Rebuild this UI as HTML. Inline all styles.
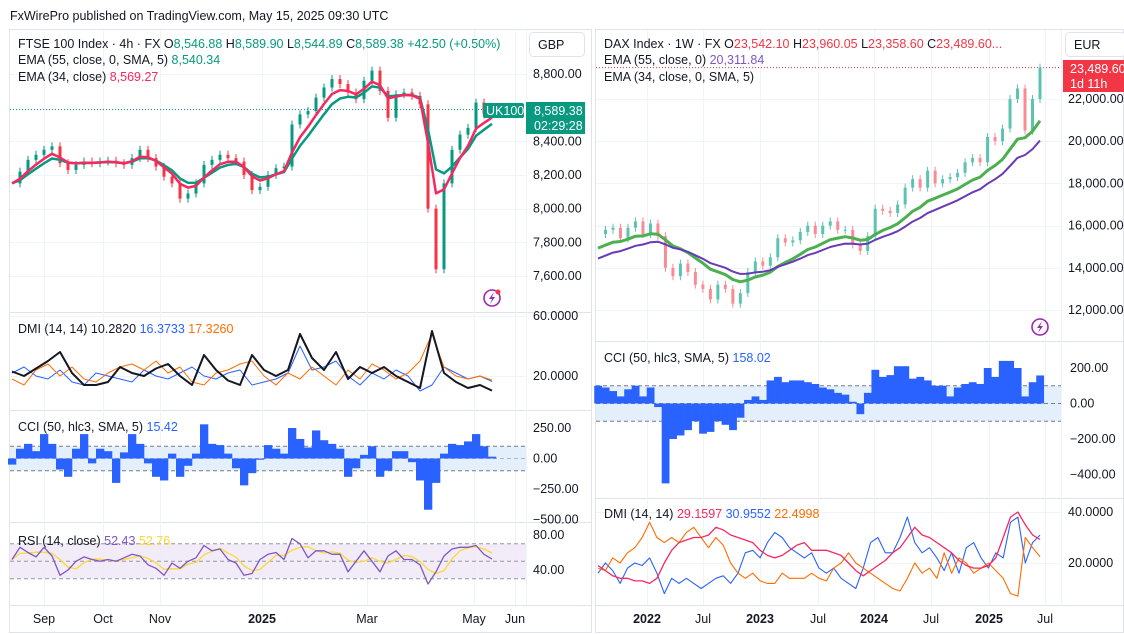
<!DOCTYPE html>
<html><head><meta charset="utf-8">
<style>
body{margin:0;background:#fff;font-family:"Liberation Sans",sans-serif;}
svg{display:block}
text{font-family:"Liberation Sans",sans-serif;}
</style></head>
<body>
<svg id="c" width="1124" height="634" viewBox="0 0 1124 634" xmlns="http://www.w3.org/2000/svg">
<rect x="0" y="0" width="1124" height="634" fill="#fff"/>
<text x="10" y="20" font-size="12.5" fill="#131722">FxWirePro published on TradingView.com, May 15, 2025 09:30 UTC</text>
<g id="grid"></g>
<g id="marks"></g>
<g id="ui"></g>
</svg>
<script>
// ---------- FTSE (left) data ----------
const ftseClose=[8150,8220,8290,8320,8350,8370,8270,8230,8260,8280,8270,8280,8285,8270,8260,8300,8350,8300,8250,8190,8150,8060,8090,8150,8260,8290,8320,8300,8280,8200,8110,8130,8200,8240,8250,8500,8560,8580,8660,8720,8770,8740,8690,8650,8760,8820,8700,8540,8680,8690,8670,8620,8000,7640,8150,8350,8440,8480,8630,8560,8589];
const ftseDmiAdx=[23,20,25,30,36,22,14,14,16,26,22,20,25,28,20,14,34,24,17,14,34,24,20,24,48,32,24,36,18,26,22,26,20,16,12,50,22,16,12,14,10.3];
const ftseDmiPlus=[22,26,20,18,24,16,14,22,20,18,16,24,20,18,22,26,20,18,22,24,14,16,18,22,40,24,26,30,20,14,22,18,24,20,10,14,26,22,18,20,16.4];
const ftseDmiMinus=[18,14,24,28,20,26,18,16,22,26,28,24,30,22,26,16,14,22,24,28,30,20,14,22,18,26,20,14,24,18,28,24,18,22,30,48,26,20,18,20,17.3];
const ftseCci=[-50,80,120,60,200,120,-90,-150,80,200,-40,80,60,-200,50,200,120,-40,-150,-180,40,-150,-60,40,280,120,110,40,-80,-220,-120,-10,110,80,40,250,160,90,230,150,120,80,-150,-80,30,100,-150,-100,60,60,-30,-180,-420,-200,40,120,110,140,200,100,15];
const ftseRsi=[52,66,60,55,66,56,34,40,50,55,52,50,52,50,54,58,56,46,42,34,48,42,50,54,68,62,64,52,48,34,36,52,58,60,52,76,70,54,62,62,58,58,38,50,62,50,38,56,62,52,52,46,24,38,56,64,66,66,68,58,52.4];
const ftsePriceTicks=[8800,8400,8200,8000,7800,7600];
const ftseMonths=["Sep","Oct","Nov","2025","Mar","May","Jun"];
// ---------- DAX (right) data ----------
const daxClose=[15600,15800,15900,15400,15900,16200,15600,16100,15500,14000,13600,14200,13800,13200,13000,12500,13200,13000,12300,12800,13800,14300,14100,14500,15400,15200,15300,15700,16000,15600,16000,16200,15800,15800,15100,14800,15500,16800,16700,16600,17000,17800,18200,17800,18600,18000,18200,18300,18500,19000,19200,19000,20200,20000,20600,22000,22500,20500,22000,23489.6];
const daxEmaSeeds=[14800,14300];
const daxCci=[100,90,70,40,80,100,40,90,-20,-450,-200,-180,-150,-100,-170,-160,-100,-120,-150,-80,20,40,20,130,150,120,130,130,120,110,90,80,60,50,10,-60,60,190,150,160,210,210,140,150,130,100,100,40,90,110,120,110,200,150,240,240,200,40,120,158];
const daxAdx=[19,17,15,14,14,13,13,12,14,20,25,28,29,30,30,31,34,33,31,30,29,28,25,23,22,23,25,27,28,25,25,25,24,23,20,17,15,17,19,21,24,26,30,34,31,30,28,26,24,21,19,18,18,19,22,30,38,40,35,31,29.2];
const daxPlus=[16,20,17,12,18,20,19,22,16,8,14,12,14,12,10,12,14,15,12,16,24,25,22,28,32,30,26,24,22,24,18,16,18,14,12,10,18,28,30,24,24,30,38,28,24,26,22,17,24,16,26,28,22,18,24,22,36,38,20,28,30.96];
const daxMinus=[18,17,22,20,24,26,30,36,30,28,30,28,32,34,30,26,30,27,20,16,14,16,13,12,12,16,14,14,14,16,14,13,18,20,24,20,18,16,14,12,10,9,14,20,16,18,14,24,16,22,20,16,18,20,17,14,8,7,30,26,22.5];
const daxPriceTicks=[22000,20000,18000,16000,14000,12000];
const daxYears=["2022","Jul","2023","Jul","2024","Jul","2025","Jul"];

const NS="http://www.w3.org/2000/svg";
const G=document.getElementById('grid'),M=document.getElementById('marks'),U=document.getElementById('ui');
function mk(tag,attrs,parent){const e=document.createElementNS(NS,tag);for(const k in attrs)e.setAttribute(k,attrs[k]);parent.appendChild(e);return e;}
function txt(x,y,s,attrs,parent){const e=mk('text',Object.assign({x:x,y:y,'font-size':12.5,fill:'#131722'},attrs),parent);e.textContent=s;return e;}
function xmap(n,x0,x1){return i=>x0+(x1-x0)*i/(n-1);}
function lin(v0,y0,v1,y1){return v=>y0+(v-v0)*(y1-y0)/(v1-v0);}
function ema(arr,p,seed){const a=2/(p+1);let e=seed===undefined?arr[0]:seed;return arr.map(v=>(e=e+a*(v-e)));}
function sma(arr,p){return arr.map((v,i)=>{let s=0,c=0;for(let j=Math.max(0,i-p+1);j<=i;j++){s+=arr[j];c++;}return s/c;});}
function drawLine(arr,X,Y,color,w,name){const pts=arr.map((v,i)=>X(i).toFixed(1)+','+Y(v).toFixed(1)).join(' ');const p=mk('polyline',{points:pts,fill:'none',stroke:color,'stroke-width':w,'stroke-linejoin':'round'},M);

return p;}

function hline(x0,x1,y,c){mk('line',{x1:x0,x2:x1,y1:y,y2:y,stroke:c||'#f0f3fa','stroke-width':1},G);}
function vline(x,y0,y1,c){mk('line',{x1:x,x2:x,y1:y0,y2:y1,stroke:c||'#f0f3fa','stroke-width':1},G);}
mk('rect',{x:9.5,y:29.5,width:582,height:603,fill:'none',stroke:'#e0e3eb'},G);
mk('rect',{x:595.5,y:29.5,width:528,height:603,fill:'none',stroke:'#e0e3eb'},G);
[312,410,522].forEach(y=>hline(10,591,y+0.5,'#e0e3eb'));
[341,498].forEach(y=>hline(596,1124,y+0.5,'#e0e3eb'));
hline(10,591,605.5,'#e0e3eb');hline(596,1124,605.5,'#e0e3eb');
vline(526.5,30,605,'#f0f3fa');vline(1061.5,30,605,'#f0f3fa');

// ---------- LEFT: FTSE ----------
const LX=xmap(ftseClose.length,12,492);
const LY=lin(8800,74,7600,276);
const lMonthX=[44,103,160,262,367,474,515];
lMonthX.forEach(x=>vline(x+0.5,30,605));
ftsePriceTicks.forEach(p=>hline(10,526,Math.round(LY(p))+0.5));
ftsePriceTicks.forEach(p=>{const t=txt(533,LY(p)+4,p.toLocaleString('en-US',{minimumFractionDigits:2}),{},U);

});
ftseClose.forEach((c,i)=>{if(i===0)return;const o=ftseClose[i-1];const up=c>=o;const col=up?'#089981':'#f23645';
const x=LX(i),y1=LY(Math.max(o,c)),y2=LY(Math.min(o,c));
const w=mk('line',{x1:x,x2:x,y1:y1-4,y2:y2+4,stroke:col,'stroke-width':1},M);


const r=mk('rect',{x:x-1.5,y:y1,width:3,height:Math.max(1,y2-y1),fill:col},M);

});
drawLine(ema(ftseClose,6),LX,LY,'#089981',2.5,'ftse-ema-55');
drawLine(ema(ftseClose,4),LX,LY,'#f7285f',2.5,'ftse-ema-34');
mk('line',{x1:10,x2:483,y1:LY(8589.38),y2:LY(8589.38),stroke:'#089981','stroke-width':1,'stroke-dasharray':'1,2'},G);
// left DMI
const DY=lin(60,316,20,376);
const DX=xmap(ftseDmiAdx.length,12,492);
hline(10,526,316.5);hline(10,526,376.5);
drawLine(ftseDmiPlus,DX,DY,'#2962ff',1,'ftse-dmi-plus');
drawLine(ftseDmiMinus,DX,DY,'#ff6d00',1,'ftse-dmi-minus');
drawLine(ftseDmiAdx,DX,DY,'#131722',2,'ftse-dmi-adx');
txt(533,DY(60)+4,'60.0000',{},U);txt(533,DY(20)+4,'20.0000',{},U);
// left CCI
const CY=lin(250,428,-250,489);
const CX=xmap(ftseCci.length,12,492);
mk('rect',{x:10,y:CY(100),width:516,height:CY(-100)-CY(100),fill:'#e3f0fb'},G);
[100,-100].forEach(v=>mk('line',{x1:10,x2:526,y1:CY(v),y2:CY(v),stroke:'#787b86','stroke-dasharray':'4,3'},G));
mk('line',{x1:10,x2:526,y1:CY(0),y2:CY(0),stroke:'#b2b5be','stroke-dasharray':'4,3'},G);
const cw=(CX(1)-CX(0));
ftseCci.forEach((v,i)=>{const y0=CY(0),y=CY(v);const r=mk('rect',{x:CX(i)-cw/2,y:Math.min(y0,y),width:cw+0.3,height:Math.abs(y-y0),fill:'#2962ff'},M);

});
[[250,'250.00'],[0,'0.00'],[-250,'−250.00'],[-500,'−500.00']].forEach(a=>txt(533,CY(a[0])+4,a[1],{},U));
// left RSI
const RY=lin(80,535,40,570);
const RX=xmap(ftseRsi.length,12,492);
mk('rect',{x:10,y:RY(70),width:516,height:RY(30)-RY(70),fill:'#ede7f6',opacity:0.8},G);
[70,50,30].forEach(v=>mk('line',{x1:10,x2:526,y1:RY(v),y2:RY(v),stroke:'#9598a1','stroke-dasharray':'4,3'},G));
drawLine(sma(ftseRsi,3),RX,RY,'#fdd835',1.3,'ftse-rsi-ma');
drawLine(ftseRsi,RX,RY,'#7e57c2',1.3,'ftse-rsi');
txt(533,RY(80)+4,'80.00',{},U);txt(533,RY(40)+4,'40.00',{},U);
ftseMonths.forEach((m,i)=>{const t=txt(lMonthX[i],623,m,{'text-anchor':'middle','font-weight':m==='2025'?'bold':'normal'},U);

});

// ---------- RIGHT: DAX ----------
const RXX=xmap(daxClose.length,598,1040);
const RPY=lin(22000,99,12000,310);
const rYearX=[647,703,760,818,874,931,989,1045];
rYearX.forEach(x=>vline(x+0.5,30,605));
daxPriceTicks.forEach(p=>hline(596,1061,Math.round(RPY(p))+0.5));
daxPriceTicks.forEach(p=>{const t=txt(1068,RPY(p)+4,p.toLocaleString('en-US',{minimumFractionDigits:2}),{},U);

});
daxClose.forEach((c,i)=>{if(i===0)return;const o=daxClose[i-1];const up=c>=o;const col=up?'#5cc3b0':'#f78c95';
const x=RXX(i),y1=RPY(Math.max(o,c)),y2=RPY(Math.min(o,c));
const w=mk('line',{x1:x,x2:x,y1:y1-4,y2:y2+4,stroke:col,'stroke-width':1},M);


const r=mk('rect',{x:x-1.5,y:y1,width:3,height:Math.max(1,y2-y1),fill:col},M);

});
drawLine(ema(daxClose,11,daxEmaSeeds[0]),RXX,RPY,'#4caf50',3,'dax-ema-34');
drawLine(ema(daxClose,18,daxEmaSeeds[1]),RXX,RPY,'#673ab7',2,'dax-ema-55');
mk('line',{x1:596,x2:1061,y1:RPY(23489.6),y2:RPY(23489.6),stroke:'#f23645','stroke-width':1,'stroke-dasharray':'1,2'},G);
// right CCI
const RCY=lin(200,368,-200,439);
const RCX=xmap(daxCci.length,598,1040);
mk('rect',{x:596,y:RCY(100),width:465,height:RCY(-100)-RCY(100),fill:'#e3f0fb'},G);
[100,-100,0].forEach(v=>mk('line',{x1:596,x2:1061,y1:RCY(v),y2:RCY(v),stroke:'#787b86','stroke-dasharray':'4,3'},G));
const rcw=RCX(1)-RCX(0);
daxCci.forEach((v,i)=>{const y0=RCY(0),y=RCY(v);const r=mk('rect',{x:RCX(i)-rcw/2,y:Math.min(y0,y),width:rcw+0.3,height:Math.abs(y-y0),fill:'#2962ff'},M);

});
[[200,'200.00'],[0,'0.00'],[-200,'−200.00'],[-400,'−400.00']].forEach(a=>txt(1070,RCY(a[0])+4,a[1],{},U));
// right DMI
const RDY=lin(40,512,20,563);
const RDX=xmap(daxAdx.length,598,1040);
hline(596,1061,512.5);hline(596,1061,563.5);
drawLine(daxPlus,RDX,RDY,'#2962ff',1.1,'dax-dmi-plus');
drawLine(daxMinus,RDX,RDY,'#ff6d00',1.1,'dax-dmi-minus');
drawLine(daxAdx,RDX,RDY,'#f7285f',1.3,'dax-dmi-adx');
txt(1068,RDY(40)+4,'40.0000',{},U);txt(1068,RDY(20)+4,'20.0000',{},U);
daxYears.forEach((m,i)=>{const t=txt(rYearX[i],623,m,{'text-anchor':'middle','font-weight':/^\d/.test(m)?'bold':'normal'},U);

});
</script>
<svg width="1124" height="634" style="position:absolute;left:0;top:0" xmlns="http://www.w3.org/2000/svg">
<g font-size="12.5" fill="#131722">
<text x="18" y="48">FTSE 100 Index · 4h · FX <tspan>O</tspan><tspan fill="#089981">8,546.88</tspan> H<tspan fill="#089981">8,589.90</tspan> L<tspan fill="#089981">8,544.89</tspan> C<tspan fill="#089981">8,589.38</tspan> <tspan fill="#089981">+42.50 (+0.50%)</tspan></text>
<text x="18" y="64">EMA (55, close, 0, SMA, 5) <tspan fill="#089981">8,540.34</tspan></text>
<text x="18" y="81">EMA (34, close) <tspan fill="#f7285f">8,569.27</tspan></text>
<text x="18" y="333">DMI (14, 14) 10.2820 <tspan fill="#2962ff">16.3733</tspan> <tspan fill="#ff6d00">17.3260</tspan></text>
<text x="18" y="431">CCI (50, hlc3, SMA, 5) <tspan fill="#2962ff">15.42</tspan></text>
<text x="18" y="545">RSI (14, close) <tspan fill="#7e57c2">52.43</tspan> <tspan fill="#fdd835">52.76</tspan></text>
<text x="604" y="48">DAX Index · 1W · FX O<tspan fill="#f23645">23,542.10</tspan> H<tspan fill="#f23645">23,960.05</tspan> L<tspan fill="#f23645">23,358.60</tspan> C<tspan fill="#f23645">23,489.60...</tspan></text>
<text x="604" y="64">EMA (55, close, 0) <tspan fill="#7e57c2">20,311.84</tspan></text>
<text x="604" y="81">EMA (34, close, 0, SMA, 5)</text>
<text x="604" y="362">CCI (50, hlc3, SMA, 5) <tspan fill="#2962ff">158.02</tspan></text>
<text x="604" y="518">DMI (14, 14) <tspan fill="#f7285f">29.1597</tspan> <tspan fill="#2962ff">30.9552</tspan> <tspan fill="#ff6d00">22.4998</tspan></text>
</g>
<g>
<rect x="529.5" y="32.5" width="55" height="24" rx="4" fill="#fff" stroke="#e0e3eb"/>
<text x="538" y="49" font-size="12.5" fill="#131722">GBP</text></g>
<g>
<rect x="1065.5" y="32.5" width="60" height="24" rx="4" fill="#fff" stroke="#e0e3eb"/>
<text x="1074" y="49" font-size="12.5" fill="#131722">EUR</text></g>
<g>
<rect x="483" y="103" width="41" height="15" rx="2" fill="#089981"/>
<text x="486" y="115" font-size="12.5" fill="#fff">UK100</text></g>
<g>
<rect x="526" y="102" width="59" height="32" fill="#089981"/>
<text x="534" y="115" font-size="12.5" fill="#fff">8,589.38</text>
<text x="534" y="130" font-size="12.5" fill="#fff">02:29:28</text></g>
<g>
<rect x="1063" y="60" width="61" height="32" fill="#f23645"/>
<text x="1070" y="73" font-size="12.5" fill="#fff">23,489.60</text>
<text x="1070" y="88" font-size="12.5" fill="#fff">1d 11h</text></g>
<g>
<circle cx="492" cy="298" r="8" fill="none" stroke="#9c27b0" stroke-width="1.6"/>
<path d="M494 292 L489 299 L492 299 L490 304 L495 297 L492 297 Z" fill="#9c27b0"/>
<circle cx="498" cy="292" r="2.5" fill="#f23645"/></g>
<g>
<circle cx="1040" cy="327" r="8" fill="none" stroke="#9c27b0" stroke-width="1.6"/>
<path d="M1042 321 L1037 328 L1040 328 L1038 333 L1043 326 L1040 326 Z" fill="#9c27b0"/></g>
</svg>
</body></html>
